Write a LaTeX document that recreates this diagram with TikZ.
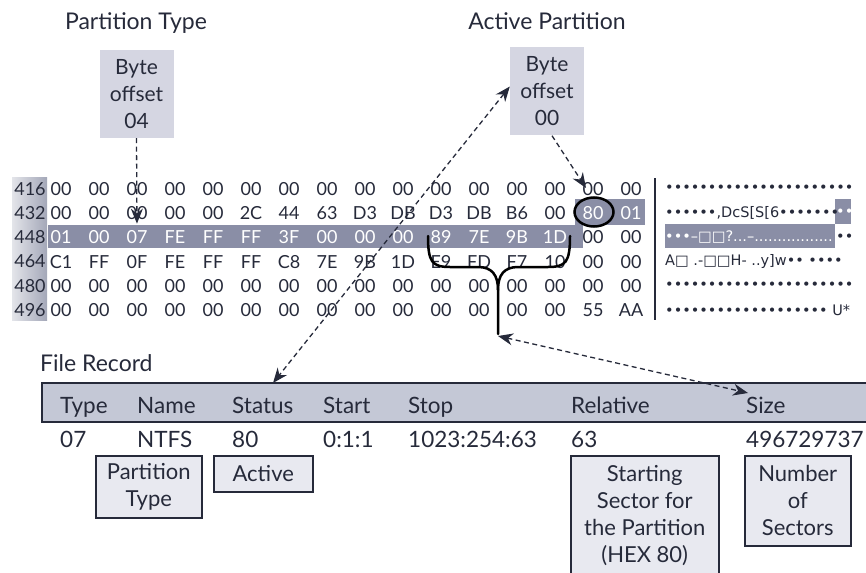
\documentclass[tikz,border=0pt]{standalone}
\usepackage{fontspec}
\setmainfont{Lato}
\newfontfamily\asciifont{DejaVu Sans}
\usetikzlibrary{arrows.meta,shapes.geometric}
\definecolor{inkdark}{HTML}{262A3A}
\definecolor{bandgray}{HTML}{8A8EA6}
\definecolor{offsetfill}{HTML}{D5D6E2}
\definecolor{headfill}{HTML}{C4C8D6}
\definecolor{notefill}{HTML}{E8E9F0}
\definecolor{stripgray}{HTML}{A3A7B8}

\begin{document}
\begin{tikzpicture}[x=1pt,y=-1pt,
    title/.style={anchor=base,inner sep=0pt,font=\fontsize{23}{26}\selectfont,text=inkdark},
    offsetbox/.style={fill=offsetfill,minimum width=74pt,minimum height=88pt,inner sep=0pt,
      align=center,font=\fontsize{21}{27}\selectfont,text=inkdark},
    hexcell/.style={inner sep=0pt,font=\fontsize{18}{18}\selectfont},
    rowlbl/.style={inner sep=0pt,font=\fontsize{18}{18}\selectfont,text=inkdark},
    ascii/.style={anchor=west,inner sep=0pt,font=\asciifont\fontsize{14.5}{14.5}\selectfont,text=inkdark},
    colhead/.style={anchor=base west,inner sep=0pt,font=\fontsize{22.5}{26}\selectfont,text=inkdark},
    note/.style={draw=inkdark,line width=1.5pt,fill=notefill,anchor=north west,inner sep=0pt,
      align=center,font=\fontsize{22}{27}\selectfont,text=inkdark},
    dasharr/.style={draw=inkdark,line width=1.3pt,dash pattern=on 5pt off 3.5pt,
      -{Stealth[length=15pt,width=12pt]}},
    dasharrtwo/.style={dasharr,{Stealth[length=15pt,width=12pt]}-{Stealth[length=15pt,width=12pt]}},
    brace/.style={draw=black,line width=2.5pt,line cap=round}]
\useasboundingbox (0,0) rectangle (866,572);

% titles and offset boxes
\node[title] (ptitle) at (136,30) {Partition Type};
\node[title] (atitle) at (547,30) {Active Partition};
\node[offsetbox] (off04) at (136.5,94) {Byte\\offset\\04};
\node[offsetbox] (off00) at (547,91.5) {Byte\\offset\\00};

% hex dump background
\shade[left color=stripgray!30,right color=stripgray] (12,177) rectangle (47,320);
\fill[bandgray] (48,225) rectangle (583,248);
\fill[bandgray] (575,199) rectangle (645,225);
\fill[bandgray] (835,199) rectangle (851,224);
\fill[bandgray] (665,224) rectangle (835,248);
\draw[line width=1.5pt,inkdark] (655,178) -- (655,320);

% hex bytes
\foreach \off/\bytes [count=\r] in {
    416/{00,00,00,00,00,00,00,00,00,00,00,00,00,00,00,00},
    432/{00,00,00,00,00,2C,44,63,D3,DB,D3,DB,B6,00,80,01},
    448/{01,00,07,FE,FF,FF,3F,00,00,00,89,7E,9B,1D,00,00},
    464/{C1,FF,0F,FE,FF,FF,C8,7E,9B,1D,E9,FD,F7,10,00,00},
    480/{00,00,00,00,00,00,00,00,00,00,00,00,00,00,00,00},
    496/{00,00,00,00,00,00,00,00,00,00,00,00,00,00,55,AA}}{
  \pgfmathsetmacro\rowy{189+24.2*(\r-1)}
  \node[rowlbl] (lbl\r) at (30,\rowy) {\off};
  \foreach \b [count=\c] in \bytes {
    \pgfmathtruncatemacro\inband{((\r==3)&&(\c<15))||((\r==2)&&(\c>14))}
    \ifnum\inband=1 \def\hexcol{white}\else\def\hexcol{inkdark}\fi
    \node[hexcell,text=\hexcol] (b\r-\c) at ({61+38*(\c-1)},\rowy) {\b};
  }
}

% ascii column
\node[ascii] (asc1) at (665,189) {••••••••••••••••••••••};
\node[ascii] (asc2) at (665,213.2) {••••••,DcS[S[6•••••••};
\node[ascii,text=white] (asc2b) at (836,213.2) {••};
\node[ascii,text=white] (asc3) at (665,237.4) {•••–□□?...–.................};
\node[ascii] (asc3b) at (836,237.4) {••};
\node[ascii] (asc4) at (665,261.6) {A□ .-□□H- ..y]w•• ••••};
\node[ascii] (asc5) at (665,285.8) {••••••••••••••••••••••};
\node[ascii] (asc6) at (665,310) {••••••••••••••••••• U*};

% circle and brace
\node[draw=black,line width=2.5pt,ellipse,minimum width=39pt,minimum height=29pt,inner sep=0pt] (ring80) at (594,212) {};
\draw[brace] (428,236) .. controls (428,262) and (432,267) .. (450,267) -- (478,267)
  .. controls (492,267) and (498,275) .. (498,290) -- (498,334);
\draw[brace] (570,236) .. controls (570,262) and (566,267) .. (548,267) -- (518,267)
  .. controls (504,267) and (498,275) .. (498,290);

% file record
\node[title,anchor=base west] (frtitle) at (40,371) {File Record};
\filldraw[line width=1.5pt,draw=inkdark,fill=headfill] (870,383) -- (42,383) -- (42,422) -- (870,422);
\foreach \name/\val/\x in {Type/07/60,Name/NTFS/137,Status/80/232,Start/0:1:1/323,
    Stop/1023:254:63/408,Relative/63/571,Size/496729737/746}{
  \node[colhead] (h\name) at (\x,413) {\name};
  \node[colhead] (v\name) at (\x,447) {\val};
}
\node[note,minimum width=106pt,minimum height=62pt] (ptype) at (95,455) {Partition\\Type};
\node[note,minimum width=99pt,minimum height=36pt] (active) at (213,455) {Active};
\node[note,minimum width=148pt,minimum height=119pt] (startsec) at (570,455) {Starting\\Sector for\\the Partition\\(HEX 80)};
\node[note,minimum width=106pt,minimum height=90pt] (numsec) at (744,455) {Number\\of\\Sectors};

% connectors
\coordinate (tip80) at (586,188);
\coordinate (statustop) at (273,383);
\coordinate (bracetip) at (498,336);
\coordinate (sizetop) at (748,393);
\draw[dasharr,shorten >=7pt] (off04.south) -- (b3-3.north);
\draw[dasharr] ([xshift=5pt]off00.south) -- (tip80);
\draw[dasharrtwo] ([yshift=5pt]off00.west) -- (statustop);
\draw[dasharrtwo] (bracetip) -- (sizetop);
\end{tikzpicture}
\end{document}
